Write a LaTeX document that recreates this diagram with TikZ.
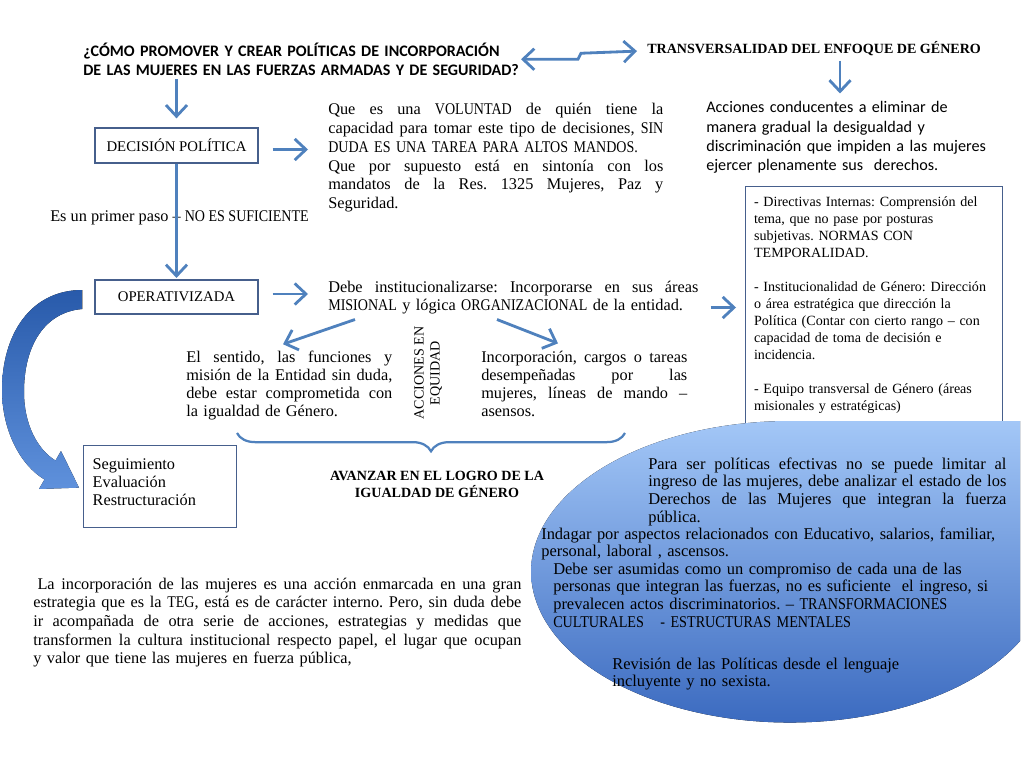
\documentclass[tikz,border=0pt]{standalone}
\usepackage{fontspec}
\setmainfont{Liberation Serif}
\newfontfamily\sansf{Carlito}
\newfontfamily\condserif[FakeStretch=0.86]{Liberation Serif}
\usepackage{tikz}
\usetikzlibrary{positioning, arrows.meta, calc, decorations.pathreplacing}
\definecolor{arrowBlue}{RGB}{79,129,189}
\definecolor{boxLine}{RGB}{70,95,140}
\definecolor{ovalTop}{RGB}{163,199,247}
\definecolor{ovalBot}{RGB}{52,100,188}
\definecolor{bendTop}{RGB}{40,90,170}
\definecolor{bendBot}{RGB}{95,145,220}
\setlength{\parindent}{0pt}
\frenchspacing
\newlength{\jw}
\newcommand{\jline}[1]{\leavevmode\hbox to \jw{\spaceskip=.25em plus 1fil\relax #1}}
\newcommand{\up}[1]{{\condserif #1}}

\begin{document}
\begin{tikzpicture}[x=0.025cm, y=-0.025cm,
  arr/.style={draw=arrowBlue, line width=2pt, -{Straight Barb[length=8pt,width=15pt]}},
  dblarr/.style={draw=arrowBlue, line width=2pt,
                 {Straight Barb[length=8pt,width=15pt]}-{Straight Barb[length=8pt,width=15pt]}},
  box/.style={draw=boxLine, line width=0.9pt, fill=white},
  jw/.style={text width=#1, execute at begin node={\setlength{\jw}{#1}}},
  body/.style={inner sep=0pt, font=\fontsize{11.6}{13.3}\selectfont, align=left},
  caps/.style={inner sep=0pt, font=\fontsize{10}{12}\selectfont},
  oval/.style={inner sep=0pt, font=\fontsize{11.7}{12.6}\selectfont, align=left},
]
\useasboundingbox (0,0) rectangle (1024,768);

% question and transversal approach
\node[inner sep=0pt, anchor=base west, align=left, text width=13cm,
      font=\sansf\bfseries\fontsize{11.4}{13.5}\selectfont] (title) at (83,57)
  {¿CÓMO PROMOVER Y CREAR POLÍTICAS DE INCORPORACIÓN\\DE LAS MUJERES EN LAS FUERZAS ARMADAS Y DE SEGURIDAD?};
\node[caps, font=\bfseries\fontsize{10}{12}\selectfont, anchor=base west] (transv) at (647,54)
  {TRANSVERSALIDAD DEL ENFOQUE DE GÉNERO};
\draw[dblarr] ($(title.north west)+(438,16)$) -- ++(57,0) -- ++(3,-6) -- ($(transv.west)+(-10,2)$);

\node[inner sep=0pt, anchor=base west, align=left, text width=7.2cm,
      font=\sansf\fontsize{11.5}{13.7}\selectfont] (acciones) at (706,113)
  {Acciones conducentes a eliminar de\\manera gradual la desigualdad y\\discriminación que impiden a las mujeres\\ejercer plenamente sus\ \ derechos.};
\draw[arr] ($(transv.south -| 840,0)+(0,4)$) -- ($(acciones.north -| 840,0)+(0,-8)$);

% decision
\node[box, minimum width=4.075cm, minimum height=0.875cm, font=\fontsize{10.5}{12}\selectfont]
  (decision) at (176.5,145.5) {DECISIÓN POLÍTICA};
\draw[arr] ($(title.south -| decision.north)+(0,3)$) -- ($(decision.north)+(0,-9)$);

\node[body, jw=8.375cm, anchor=base west] (voluntad) at (328,115)
  {\jline{Que es una \up{VOLUNTAD} de quién tiene la}\\
   \jline{capacidad para tomar este tipo de decisiones, \up{SIN}}\\
   \up{DUDA ES UNA TAREA PARA ALTOS MANDOS.}\\
   \jline{Que por supuesto está en sintonía con los}\\
   \jline{mandatos de la Res. 1325 Mujeres, Paz y}\\
   Seguridad.};
\draw[arr] ($(decision.east)+(14,4)$) -- ($(decision.east -| voluntad.west)+(-20,4)$);

\node[body, anchor=base west] (primer) at (50,221) {Es un primer paso – \up{NO ES SUFICIENTE}};

% operativizada
\node[box, minimum width=4.075cm, minimum height=0.85cm, font=\fontsize{10.5}{12}\selectfont]
  (operat) at (176.5,297) {OPERATIVIZADA};
\draw[arr, shorten >=1pt] (decision.south) -- (operat.north);

\node[body, jw=9.25cm, anchor=base west] (debe) at (328,292)
  {\jline{Debe institucionalizarse: Incorporarse en sus áreas}\\
   \up{MISIONAL} y lógica \up{ORGANIZACIONAL} de la entidad.};
\draw[arr] ($(operat.east)+(14,-3)$) -- ($(operat.east -| debe.west)+(-20,-3)$);

\node[box, anchor=north west, text width=6cm, inner xsep=6pt, inner ysep=7pt, align=left,
      font=\fontsize{10}{12.1}\selectfont] (directivas) at (745,186)
  {- Directivas Internas: Comprensión del\\tema, que no pase por posturas\\subjetivas. NORMAS CON\\TEMPORALIDAD.\\[12.1pt]
   - Institucionalidad de Género: Dirección\\o área estratégica que dirección la\\Política (Contar con cierto rango – con\\capacidad de toma de decisión e\\incidencia.\\[12.1pt]
   - Equipo transversal de Género (áreas\\misionales y estratégicas)};
\draw[arr] ($(debe.south east)+(12,-7)$) -- ($(debe.south east -| directivas.west)+(-9,-7)$);

% acciones en equidad
\node[body, font=\fontsize{11.6}{13}\selectfont, jw=5.15cm, anchor=base west] (sentido) at (186,362)
  {\jline{El sentido, las funciones y}\\
   \jline{misión de la Entidad sin duda,}\\
   \jline{debe estar comprometida con}\\
   la igualdad de Género.};
\node[body, font=\fontsize{11.6}{13}\selectfont, jw=5.15cm, anchor=base west] (incorp) at (481,362)
  {\jline{Incorporación, cargos o tareas}\\
   \jline{desempeñadas por las}\\
   \jline{mujeres, líneas de mando –}\\
   asensos.};
\draw[arr] ($(debe.south west)+(27,5)$) -- ($(sentido.north west)+(97,-6)$);
\draw[arr] ($(debe.south west)+(169,5)$) -- ($(incorp.north west)+(77,-7)$);
\node[caps, rotate=90, align=center, font=\fontsize{10}{11.4}\selectfont] (equidad) at (428,373)
  {ACCIONES EN\\EQUIDAD};

\coordinate (braceL) at (237,433);
\coordinate (braceR) at (625,433);
\draw[arrowBlue, line width=1.6pt, decorate, decoration={brace, mirror, amplitude=13pt}]
  (braceL) -- (braceR);
\node[caps, align=center, font=\bfseries\fontsize{10}{12}\selectfont] (avanzar) at (437,484)
  {AVANZAR EN EL LOGRO DE LA\\IGUALDAD DE GÉNERO};

% follow-up loop
\node[box, anchor=north west, minimum width=3.825cm, minimum height=2.05cm, text width=3.375cm,
      inner xsep=6.4pt, align=left, font=\fontsize{11.6}{12.8}\selectfont] (seguim) at (83,445)
  {Seguimiento\\Evaluación\\Restructuración\\[-6pt]\mbox{}};
\fill[top color=bendTop, bottom color=bendBot]
  ($(operat.west)+(-12,-7)$) .. controls (30,290) and (2,335) .. (2,390)
  .. controls (2,430) and (20,465) .. (44.5,479.5) -- (39,489) -- ($(seguim.west)+(-4,1)$)
  -- (61,451) -- (55.5,460.5) .. controls (38,450) and (24,425) .. (24,392)
  .. controls (24,345) and (45,312) .. ($(operat.west)+(-12,12)$) -- cycle;

\node[body, jw=12.2cm, anchor=base west] (teg) at (33,589)
  {\jline{\kern3pt La incorporación de las mujeres es una acción enmarcada en una gran}\\
   \jline{estrategia que es la \up{TEG}, está es de carácter interno. Pero, sin duda debe}\\
   \jline{ir acompañada de otra serie de acciones, estrategias y medidas que}\\
   \jline{transformen la cultura institucional respecto papel, el lugar que ocupan}\\
   y valor que tiene las mujeres en fuerza pública,};

% oval with the conditions
\fill[top color=ovalTop, bottom color=ovalBot]
  (531,572) arc[start angle=180, end angle=270, x radius=259, y radius=151]
  -- (1020,421) -- (1020,641)
  arc[start angle=27.4, end angle=180, x radius=259, y radius=151] -- cycle;
\node[oval, jw=8.95cm, anchor=base west] (efectivas) at (648,469)
  {\jline{Para ser políticas efectivas no se puede limitar al}\\
   \jline{ingreso de las mujeres, debe analizar el estado de los}\\
   \jline{Derechos de las Mujeres que integran la fuerza}\\
   pública.};
\node[oval, text width=11.8cm, anchor=base west] (indagar) at (541,539)
  {Indagar por aspectos relacionados con Educativo, salarios, familiar,\\personal, laboral , ascensos.};
\node[oval, text width=11.8cm, anchor=base west] (asumidas) at (553,574)
  {Debe ser asumidas como un compromiso de cada una de las\\personas que integran las fuerzas, no es suficiente\ \ el ingreso, si\\prevalecen actos discriminatorios. – \up{TRANSFORMACIONES}\\\up{CULTURALES\ \ \ - ESTRUCTURAS MENTALES}};
\node[oval, text width=8cm, anchor=base west] (revision) at (612,669)
  {Revisión de las Políticas desde el lenguaje\\incluyente y no sexista.};
\end{tikzpicture}
\end{document}
